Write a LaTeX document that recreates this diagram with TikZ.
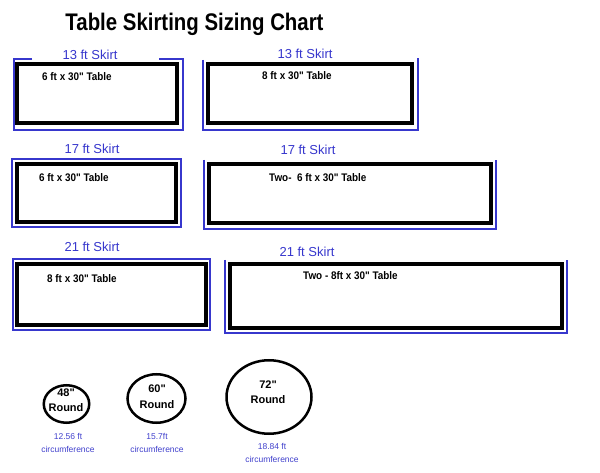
\documentclass[tikz,border=0pt]{standalone}
\usepackage{fontspec}
\setmainfont{Liberation Sans}[Ligatures=TeXOff]
\usetikzlibrary{shapes.geometric}
\definecolor{skirtblue}{RGB}{55,55,205}
\definecolor{circblue}{RGB}{65,65,205}
\newcommand{\tlab}[1]{\scalebox{0.9}[1]{#1}}
\begin{document}
\begin{tikzpicture}[x=1pt,y=-1pt,
  tablebox/.style={draw=black,line width=4pt,fill=white},
  skirtline/.style={draw=skirtblue,line width=2pt},
  skirtlabel/.style={text=skirtblue,font=\fontsize{13}{15}\selectfont,inner sep=0},
  tablelabel/.style={font=\bfseries\fontsize{11}{12}\selectfont,anchor=west,inner sep=0},
  roundbox/.style={ellipse,draw=black,line width=2.5pt,inner sep=0,outer sep=0},
  roundlabel/.style={font=\bfseries\fontsize{11}{12}\selectfont,inner sep=0},
  circlabel/.style={text=circblue,font=\fontsize{8.5}{9}\selectfont,inner sep=0},
  titlelabel/.style={font=\bfseries\fontsize{24}{28}\selectfont,inner sep=0}]
\useasboundingbox[fill=white] (0,0) rectangle (600,473);

% title
\node[titlelabel] (title) at (194.5,24) {\scalebox{0.85}[1]{Table Skirting Sizing Chart}};

% ---- row 1 ----
\draw[skirtline] (32,59.5) -- (14,59.5) -- (14,130) -- (183,130) -- (183,59.5) -- (159,59.5);
\draw[tablebox] (17,64.5) rectangle (177,123);
\node[skirtlabel] (s1l) at (90,55) {13 ft Skirt};
\node[tablelabel] (t1l) at (42,77) {\tlab{6 ft x 30" Table}};

\draw[skirtline] (203,60) -- (203,130) -- (418,130) -- (418,58);
\draw[tablebox] (208,64.5) rectangle (412,123);
\node[skirtlabel] (s1r) at (305,54) {13 ft Skirt};
\node[tablelabel] (t1r) at (262,76) {\tlab{8 ft x 30" Table}};

% ---- row 2 ----
\draw[skirtline] (12,159) rectangle (181,227.5);
\draw[tablebox] (17,164) rectangle (176,222);
\node[skirtlabel] (s2l) at (92,149) {17 ft Skirt};
\node[tablelabel] (t2l) at (39,178) {\tlab{6 ft x 30" Table}};

\draw[skirtline] (204,160) -- (204,229.5) -- (496,229.5) -- (496,160);
\draw[tablebox] (209,164) rectangle (491,223);
\node[skirtlabel] (s2r) at (308,150) {17 ft Skirt};
\node[tablelabel] (t2r) at (269,178) {\tlab{Two-~~6 ft x 30" Table}};

% ---- row 3 ----
\draw[skirtline] (13,259) rectangle (210,329.5);
\draw[tablebox] (17,264) rectangle (206,325);
\node[skirtlabel] (s3l) at (92,247) {21 ft Skirt};
\node[tablelabel] (t3l) at (47,279) {\tlab{8 ft x 30" Table}};

\draw[skirtline] (225,260) -- (225,332.5) -- (567,332.5) -- (567,260);
\draw[tablebox] (230,264) rectangle (562,328);
\node[skirtlabel] (s3r) at (307,252) {21 ft Skirt};
\node[tablelabel] (t3r) at (303,276) {\tlab{Two - 8ft x 30" Table}};

% ---- rounds ----
\node[roundbox,minimum width=45.5pt,minimum height=37.5pt] (r48) at (66.5,404) {};
\node[roundlabel] (r48a) at (66,393) {48"};
\node[roundlabel] (r48b) at (66,408) {Round};
\node[circlabel] (c48a) at (68,436) {12.56 ft};
\node[circlabel] (c48b) at (68,449) {circumference};

\node[roundbox,minimum width=58pt,minimum height=48.5pt] (r60) at (156.5,398.5) {};
\node[roundlabel] (r60a) at (157,389) {60"};
\node[roundlabel] (r60b) at (157,405) {Round};
\node[circlabel] (c60a) at (157,436) {15.7ft};
\node[circlabel] (c60b) at (157,449) {circumference};

\node[roundbox,minimum width=85pt,minimum height=73.5pt] (r72) at (269,397) {};
\node[roundlabel] (r72a) at (268,385) {72"};
\node[roundlabel] (r72b) at (268,400) {Round};
\node[circlabel] (c72a) at (272,446) {18.84 ft};
\node[circlabel] (c72b) at (272,459) {circumference};
\end{tikzpicture}
\end{document}
